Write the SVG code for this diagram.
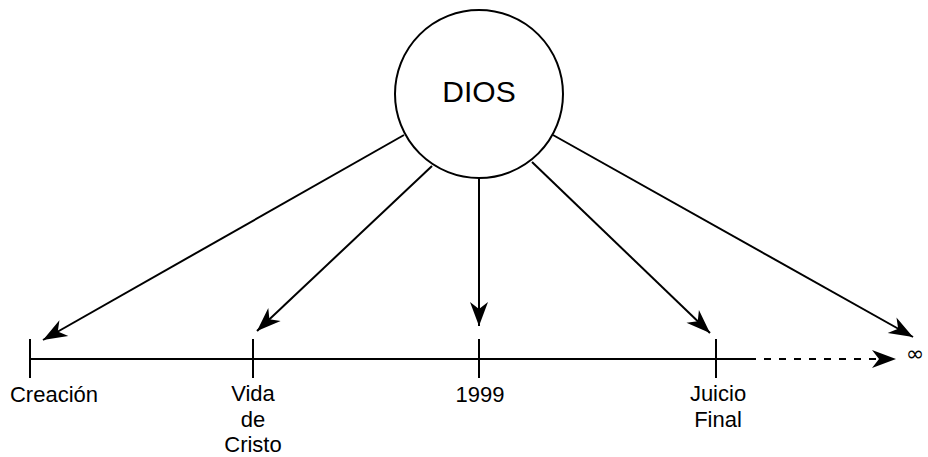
<svg xmlns="http://www.w3.org/2000/svg" width="928" height="457" viewBox="0 0 928 457">
<defs>
<style>
.ln{stroke:#000;stroke-width:2;fill:none}
.t{font-family:"Liberation Sans",Arial,sans-serif;font-size:22px;fill:#000;text-anchor:middle}
</style>
<marker id="ah" markerUnits="userSpaceOnUse" markerWidth="30" markerHeight="30" viewBox="-26 -10 30 20" refX="0" refY="0" orient="auto">
<path d="M0,0 L-24,-9 L-17,0 L-24,9 Z" fill="#000"/>
</marker>
</defs>
<rect width="928" height="457" fill="#fff"/>
<g id="dios">
<circle cx="479" cy="94" r="84" class="ln"/>
<text x="479" y="102" class="t" style="font-size:30px">DIOS</text>
</g>
<g id="timeline">
<line x1="30" y1="359" x2="756" y2="359" class="ln"/>
<line x1="30" y1="339" x2="30" y2="378" class="ln"/>
<line x1="253" y1="339" x2="253" y2="378" class="ln"/>
<line x1="479" y1="339" x2="479" y2="378" class="ln"/>
<line x1="716" y1="339" x2="716" y2="378" class="ln"/>
</g>
<g id="creacion"><text x="54" y="402" class="t">Creación</text></g>
<g id="cristo"><text x="253" y="401" class="t">Vida</text><text x="253" y="427" class="t">de</text><text x="253" y="452" class="t">Cristo</text></g>
<g id="y1999"><text x="480" y="402" class="t">1999</text></g>
<g id="juicio"><text x="718" y="401" class="t">Juicio</text><text x="718" y="427" class="t">Final</text></g>
<g id="infinito"><text x="906" y="361" style="font-family:'DejaVu Sans',sans-serif;font-size:22px">∞</text></g>
<g id="connectors">
<line x1="404" y1="135" x2="43" y2="340" class="ln" marker-end="url(#ah)"/>
<line x1="432" y1="166" x2="257" y2="331" class="ln" marker-end="url(#ah)"/>
<line x1="479" y1="178" x2="479" y2="326" class="ln" marker-end="url(#ah)"/>
<line x1="532" y1="162" x2="710" y2="333" class="ln" marker-end="url(#ah)"/>
<line x1="553" y1="135" x2="913" y2="337" class="ln" marker-end="url(#ah)"/>
<line x1="764" y1="359" x2="896" y2="359" class="ln" stroke-dasharray="7 8" marker-end="url(#ah)"/>
</g>
</svg>
